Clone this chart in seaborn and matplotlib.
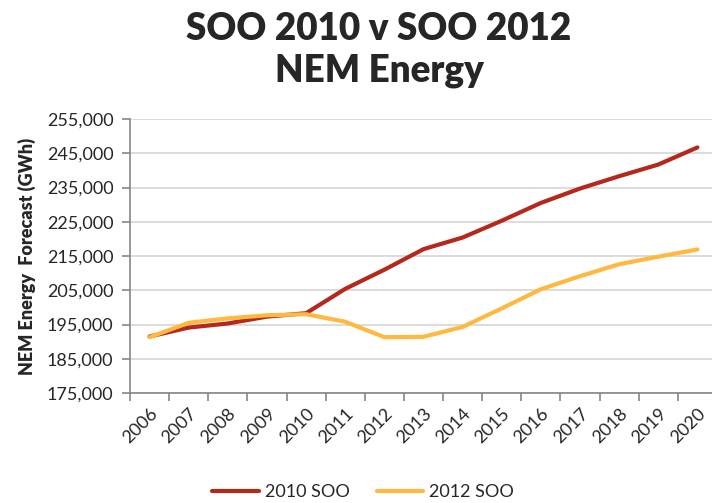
import pandas as pd
import matplotlib
matplotlib.use("Agg")
import matplotlib.pyplot as plt
import seaborn as sns

# Data
years = [str(y) for y in range(2006, 2021)]
soo_2010 = [191500, 194100, 195300, 197300, 198300, 205400, 211000, 217000,
            220400, 225300, 230500, 234700, 238300, 241700, 246700]
soo_2012 = [191300, 195500, 196800, 197700, 198000, 195800, 191300, 191400,
            194300, 199700, 205300, 209100, 212600, 214800, 216900]
series_names = ["2010 SOO", "2012 SOO"]
colors = ["#B5281C", "#FFB940"]
y_ticks = list(range(175000, 255001, 10000))

df = pd.DataFrame({
    "year": years * 2,
    "energy": soo_2010 + soo_2012,
    "series": [series_names[0]] * len(years) + [series_names[1]] * len(years),
})

sns.set_style("white")
plt.rcParams['font.family'] = ['Lato', 'DejaVu Sans']

fig = plt.figure(figsize=(7.12, 5.03), dpi=100)
ax = fig.add_axes([130 / 712, 110 / 503, 587 / 712, 274 / 503])

sns.lineplot(data=df, x="year", y="energy", hue="series", palette=colors,
             linewidth=3, ax=ax, legend=True, sort=False)

ax.set_xlim(-0.5, len(years) - 0.5)
ax.set_ylim(175000, 255000)
ax.set_yticks(y_ticks)
ax.set_yticklabels([f"{v:,}" for v in y_ticks], fontsize=13)
ax.yaxis.grid(True, color="#D9D9D9", linewidth=1.3)
ax.set_axisbelow(True)

# category ticks between the labels, like the original
ax.set_xticks([i - 0.5 for i in range(len(years) + 1)], minor=False)
ax.set_xticklabels([])
ax.set_xticks(range(len(years)), minor=True)
ax.set_xticklabels(years, minor=True, rotation=45, ha="right",
                   rotation_mode="anchor", fontsize=13)
ax.tick_params(axis="x", which="major", direction="out", length=6,
               color="#868686", width=1.2, bottom=True)
ax.tick_params(axis="x", which="minor", length=0, pad=9)
ax.tick_params(axis="y", direction="out", length=6, color="#868686",
               width=1.2, left=True, pad=6)

for side in ["top", "right"]:
    ax.spines[side].set_visible(False)
for side in ["left", "bottom"]:
    ax.spines[side].set_color("#868686")
    ax.spines[side].set_linewidth(1.2)

ax.set_xlabel("")
ax.set_ylabel("NEM Energy  Forecast (GWh)", fontsize=13, fontweight="heavy",
              labelpad=8)

ax.legend(loc="center", bbox_to_anchor=(363 / 712, 1 - 492 / 503),
          bbox_transform=fig.transFigure, ncol=2, frameon=False,
          fontsize=13, handlelength=2.6, handletextpad=0.3,
          columnspacing=1.5)

fig.text(379 / 712, 1 - 29 / 503, "SOO 2010 v SOO 2012", ha="center",
         va="center", fontsize=26.5, fontweight="heavy")
fig.text(379 / 712, 1 - 71 / 503, "NEM Energy", ha="center",
         va="center", fontsize=26.5, fontweight="heavy")

fig.savefig("out.png", dpi=100)
